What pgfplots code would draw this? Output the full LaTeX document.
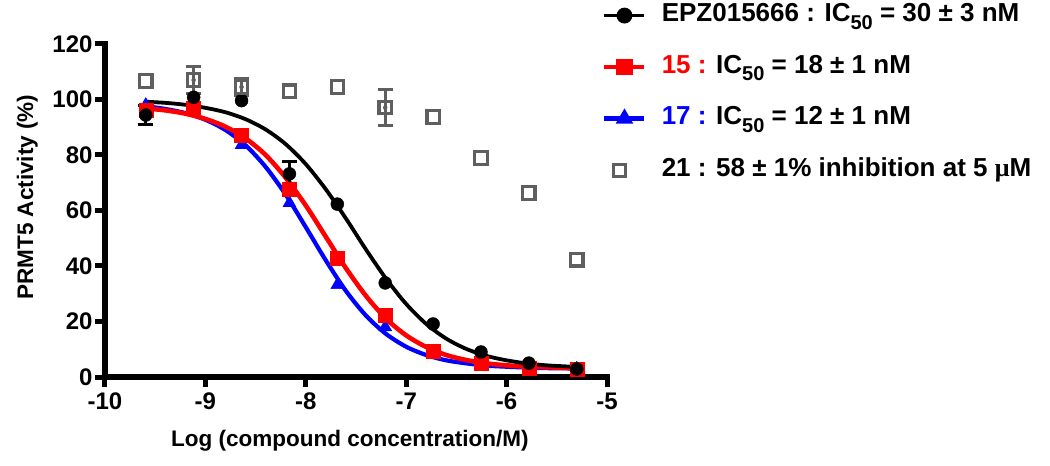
\documentclass[border=0pt]{standalone}
\usepackage{fontspec}
\setmainfont{Liberation Sans}
\newfontfamily\serifmu{Liberation Serif}
\usepackage{pgfplots}
\pgfplotsset{compat=1.18}
\definecolor{sqgray}{HTML}{5F5F5F}
\newcommand\sub[1]{\raisebox{-0.3em}{\fontsize{20}{20}\selectfont #1}}
\begin{document}
\begin{tikzpicture}
\useasboundingbox (-105pt,-89pt) rectangle (945pt,377pt);
\begin{axis}[
  at={(0pt,0pt)}, anchor=south west,
  scale only axis, width=502pt, height=333pt,
  xmin=-10, xmax=-5, ymin=0, ymax=120,
  axis lines=left,
  axis line style={line width=5.5pt, -, line cap=rect},
  xtick={-10,-9,-8,-7,-6,-5}, xticklabels={-10,-9,-8,-7,-6,-5},
  ytick={0,20,40,60,80,100,120}, yticklabels={0,20,40,60,80,100,120},
  tick align=outside, major tick length=10pt,
  tick style={line width=5pt, black},
  tick label style={font=\fontsize{24}{24}\selectfont\bfseries},
  xticklabel style={yshift=-2pt},
  yticklabel style={xshift=1pt},
  xlabel={Log (compound concentration/M)},
  ylabel={PRMT5 Activity (\%)},
  label style={font=\fontsize{22.5}{22.5}\selectfont\bfseries},
  xlabel style={at={(axis description cs:0.488,-0.19)}, anchor=center},
  ylabel style={at={(axis description cs:-0.155,0.54)}, anchor=center},
  clip=false,
  legend cell align=left,
  legend style={at={(axis description cs:0.990,1.122)}, anchor=north west,
    draw=none, fill=none, inner sep=0pt, row sep=27.5pt,
    nodes={inner sep=0pt, text height=18pt, text depth=6pt},
    font=\fontsize{26}{26}\selectfont\bfseries,
    /tikz/every odd column/.append style={column sep=15pt}},
]
% fitted curves
\addplot[blue, line width=4.2pt, smooth, forget plot] coordinates {
(-9.6,97.6) (-9.4,96.6) (-9.2,95.1) (-9.0,92.7) (-8.8,89.0) (-8.6,83.5)
(-8.4,75.7) (-8.2,65.7) (-8.0,54.0) (-7.8,42.0) (-7.6,31.0) (-7.4,22.1)
(-7.2,15.5) (-7.0,10.9) (-6.8,7.9) (-6.6,6.0) (-6.4,4.9) (-6.2,4.1)
(-6.0,3.7) (-5.8,3.4) (-5.6,3.2) (-5.4,3.1) (-5.3,3.1)};
\addplot[red, line width=4.6pt, smooth, forget plot] coordinates {
(-9.6,96.8) (-9.4,96.1) (-9.2,94.9) (-9.0,93.0) (-8.8,90.2) (-8.6,86.0)
(-8.4,80.0) (-8.2,71.8) (-8.0,61.8) (-7.8,50.5) (-7.6,39.2) (-7.4,29.2)
(-7.2,21.0) (-7.0,15.0) (-6.8,10.8) (-6.6,7.9) (-6.4,6.1) (-6.2,4.9)
(-6.0,4.2) (-5.8,3.7) (-5.6,3.5) (-5.4,3.3) (-5.3,3.2)};
\addplot[black, line width=3.8pt, smooth, forget plot] coordinates {
(-9.6,99.2) (-9.4,98.8) (-9.2,98.1) (-9.0,97.0) (-8.8,95.4) (-8.6,92.9)
(-8.4,89.2) (-8.2,83.9) (-8.0,76.7) (-7.8,67.6) (-7.6,57.1) (-7.4,45.9)
(-7.2,35.4) (-7.0,26.3) (-6.8,19.1) (-6.6,13.8) (-6.4,10.1) (-6.2,7.6)
(-6.0,6.0) (-5.8,4.9) (-5.6,4.2) (-5.4,3.8) (-5.3,3.6)};
% error bars
\addplot[only marks, mark=none, forget plot, black,
  error bars/.cd, y dir=both, y explicit,
  error bar style={line width=3pt, black},
  error mark options={rotate=90, mark size=7.5pt, line width=3pt, black}]
  table[x=x, y=y, y error=e] {
x y e
-9.594 94.4 3.3
-8.163 73.2 4.4
};
\addplot[only marks, mark=none, forget plot, sqgray,
  error bars/.cd, y dir=both, y explicit,
  error bar style={line width=3pt, sqgray},
  error mark options={rotate=90, mark size=7.5pt, line width=3pt, sqgray}]
  table[x=x, y=y, y error=e] {
x y e
-9.117 107.0 5.0
-8.640 104.5 3.0
-7.209 97.1 6.4
};
% data points
\addplot[only marks, mark=triangle*, mark size=7.5pt, blue, forget plot] coordinates {
(-9.594,98.0) (-9.117,96.0) (-8.640,83.6) (-8.163,62.7) (-7.686,33.2)
(-7.209,18.0) (-6.732,9.0) (-6.255,5.5) (-5.778,4.0) (-5.301,3.0)};
\addplot[only marks, mark=square*, mark size=7pt, red, forget plot] coordinates {
(-9.594,96.0) (-9.117,96.9) (-8.640,87.2) (-8.163,67.7) (-7.686,42.9)
(-7.209,22.3) (-6.732,9.3) (-6.255,5.0) (-5.778,3.0) (-5.301,2.8)};
\addplot[only marks, mark=*, mark size=6.5pt, black, forget plot] coordinates {
(-9.594,94.4) (-9.117,100.8) (-8.640,99.6) (-8.163,73.2) (-7.686,62.3)
(-7.209,33.9) (-6.732,19.1) (-6.255,9.0) (-5.778,5.0) (-5.301,2.9)};
\addplot[only marks, mark=square, mark size=6.2pt, forget plot,
  mark options={draw=sqgray, line width=3.2pt}] coordinates {
(-9.594,106.7) (-9.117,107.0) (-8.640,104.5) (-8.163,103.0) (-7.686,104.5)
(-7.209,97.1) (-6.732,93.7) (-6.255,78.9) (-5.778,66.3) (-5.301,42.2)};
% legend
\addlegendimage{legend image code/.code={
  \draw[black, line width=3.8pt, mark=*, mark size=6pt, mark repeat=2, mark phase=2]
    plot coordinates {(0pt,0pt) (20pt,0pt) (40pt,0pt)};}}
\addlegendentry{EPZ015666 : IC\sub{50} = 30 ± 3 nM}
\addlegendimage{legend image code/.code={
  \draw[red, line width=4.6pt, mark=square*, mark size=6pt, mark repeat=2, mark phase=2]
    plot coordinates {(0pt,0pt) (20pt,0pt) (40pt,0pt)};}}
\addlegendentry{\textcolor{red}{15 :} IC\sub{50} = 18 ± 1 nM}
\addlegendimage{legend image code/.code={
  \draw[blue, line width=4.2pt, mark=triangle*, mark size=6pt, mark repeat=2, mark phase=2]
    plot coordinates {(0pt,0pt) (20pt,0pt) (40pt,0pt)};}}
\addlegendentry{\textcolor{blue}{17 :} IC\sub{50} = 12 ± 1 nM}
\addlegendimage{legend image code/.code={
  \path[draw=none] (0pt,0pt) -- (40pt,0pt);
  \path[draw=none] plot[only marks, mark=square, mark size=6pt,
    mark options={draw=sqgray, line width=3pt}] coordinates {(15pt,0pt)};}}
\addlegendentry{21 : 58 ± 1\% inhibition at 5 {\serifmu μ}M}
\end{axis}
\end{tikzpicture}
\end{document}
